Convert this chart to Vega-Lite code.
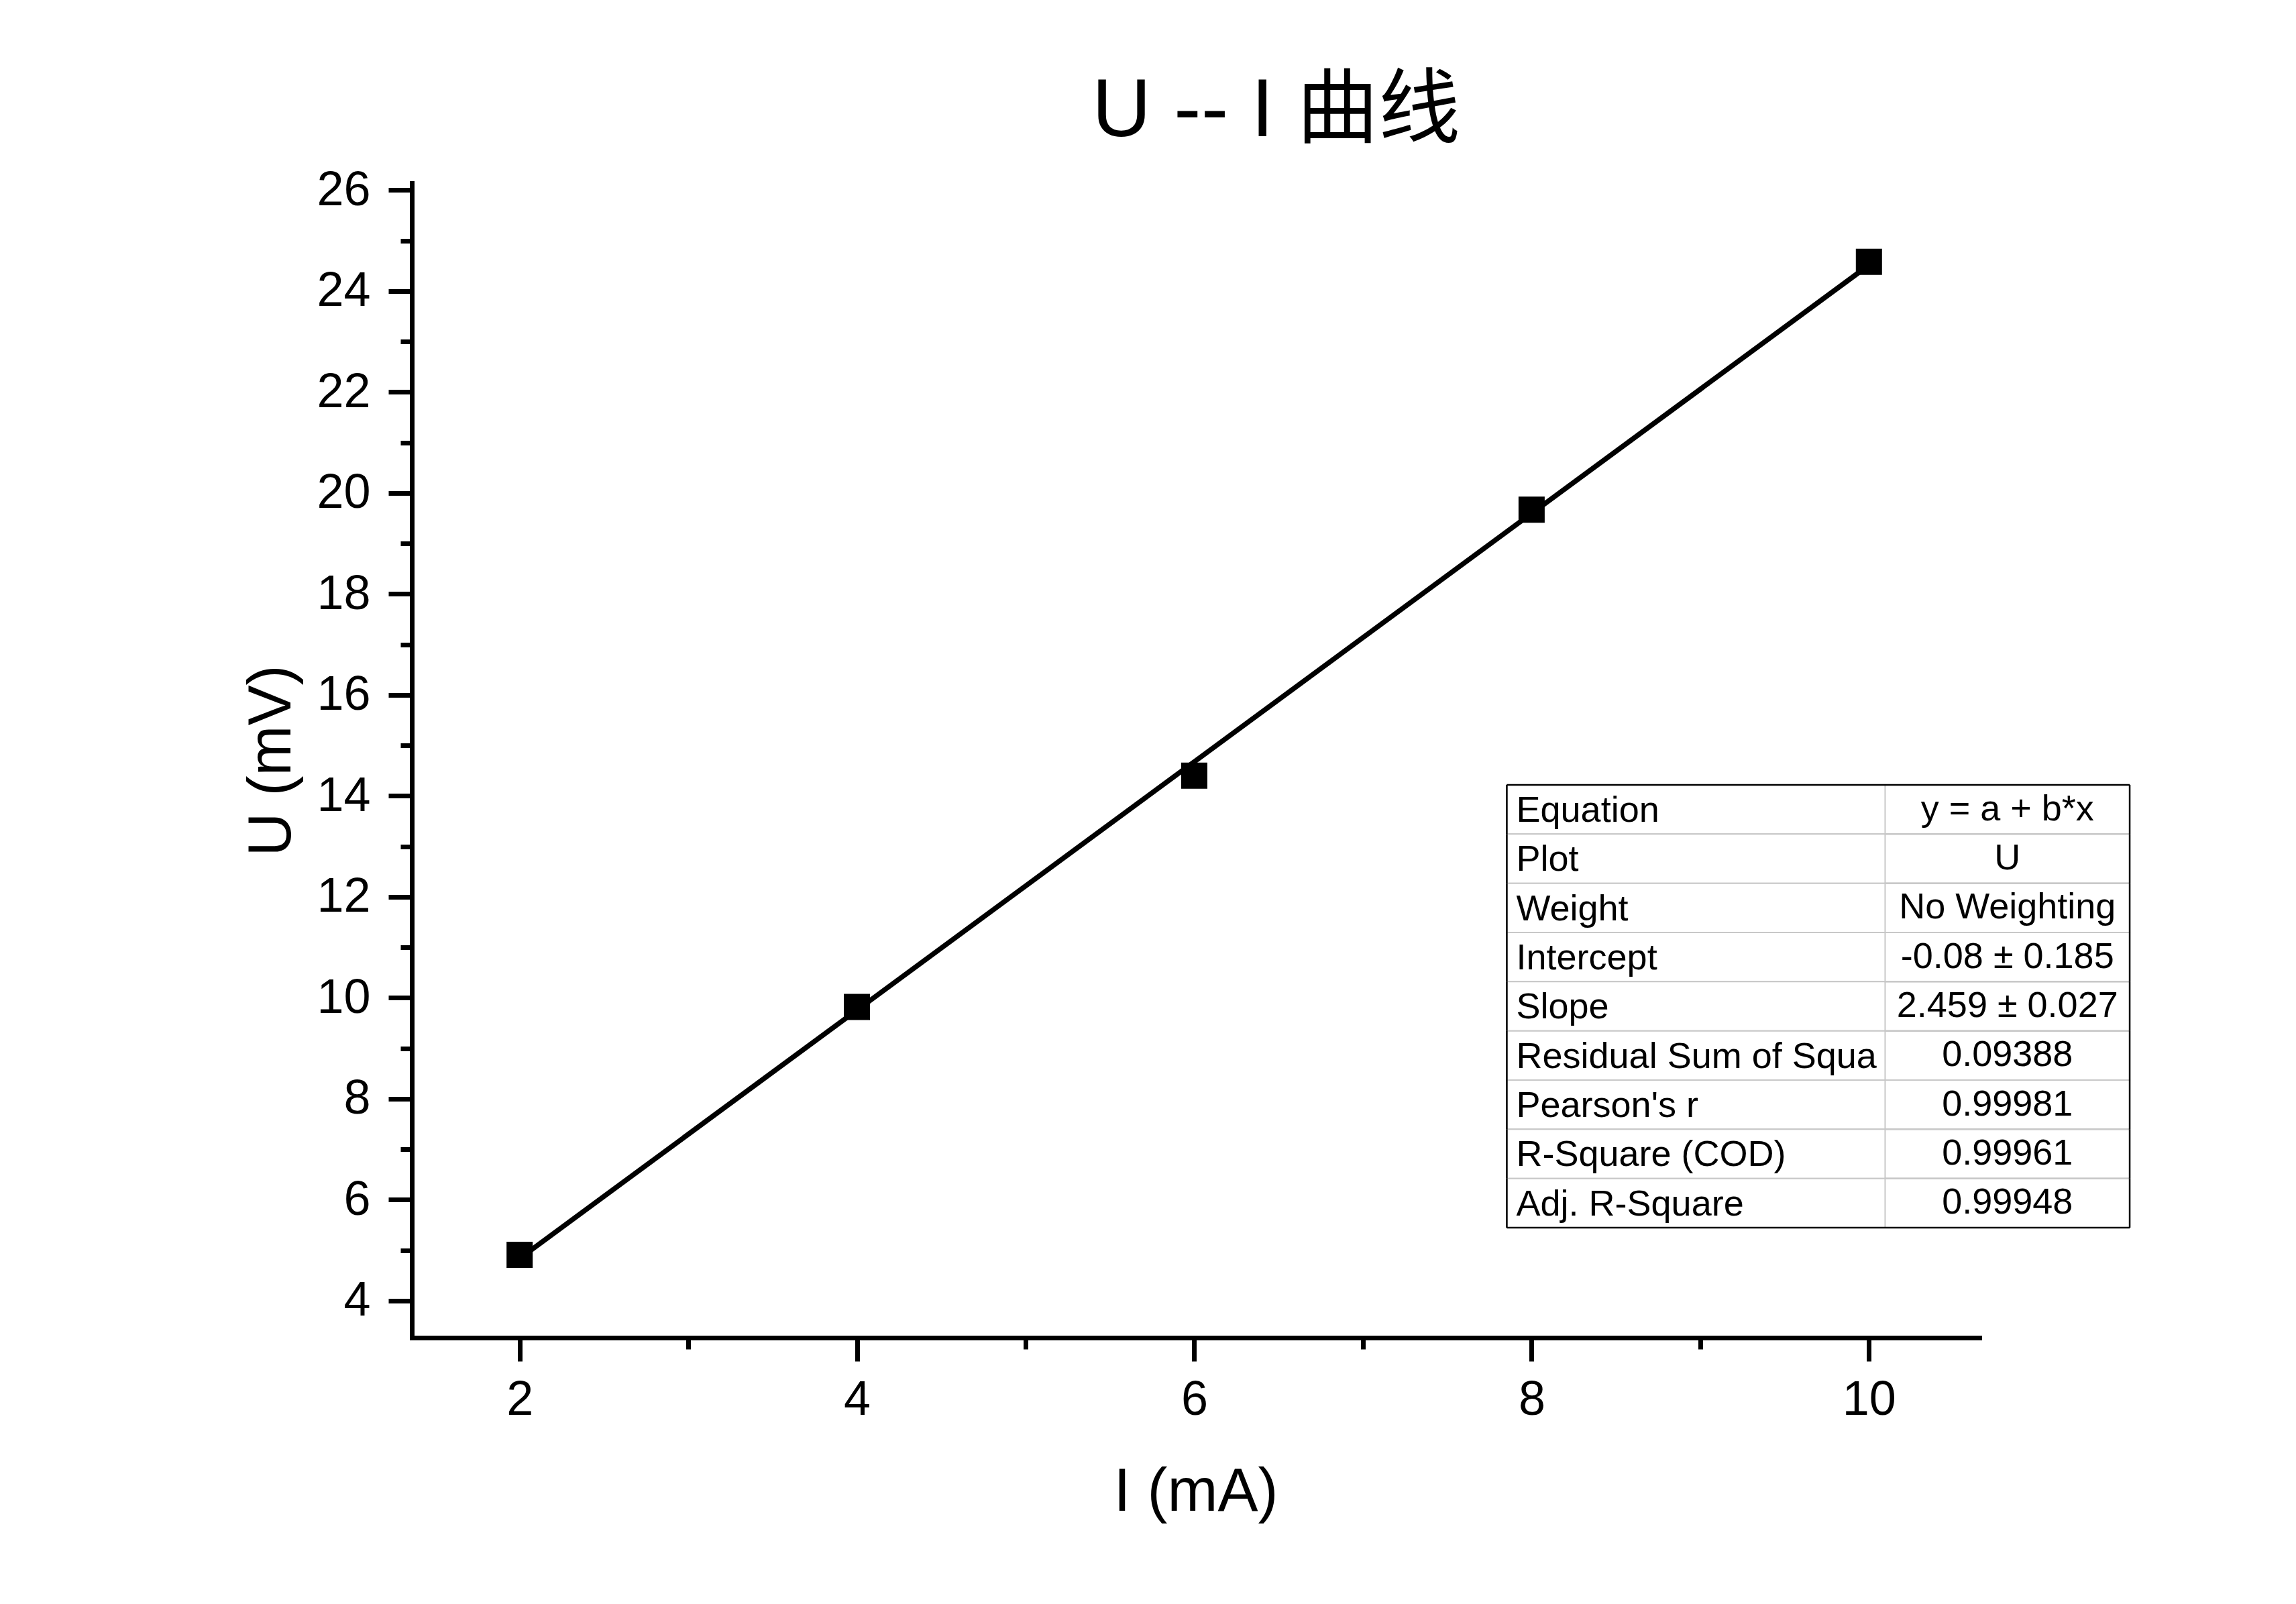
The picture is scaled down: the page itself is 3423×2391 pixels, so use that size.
{
  "$schema": "https://vega.github.io/schema/vega-lite/v6.json",
  "width": 2337,
  "height": 1721,
  "autosize": {"type": "none"},
  "padding": {"left": 614, "top": 273, "right": 472, "bottom": 397},
  "background": "white",
  "config": {"view": {"stroke": null}},
  "title": {
    "text": "U -- I 曲线",
    "font": "Liberation Sans, Noto Sans CJK SC",
    "fontSize": 122,
    "fontWeight": "normal",
    "color": "black",
    "anchor": "start",
    "frame": "group",
    "dx": 1014,
    "baseline": "alphabetic",
    "offset": -78
  },
  "datasets": {
    "points": [
      {"I": 2, "U": 4.91},
      {"I": 4, "U": 9.82},
      {"I": 6, "U": 14.40},
      {"I": 8, "U": 19.67},
      {"I": 10, "U": 24.58}
    ],
    "table": [
      {"row": 1, "label": "Equation", "value": "y = a + b*x"},
      {"row": 2, "label": "Plot", "value": "U"},
      {"row": 3, "label": "Weight", "value": "No Weighting"},
      {"row": 4, "label": "Intercept", "value": "-0.08 ± 0.185"},
      {"row": 5, "label": "Slope", "value": "2.459 ± 0.027"},
      {"row": 6, "label": "Residual Sum of Squa", "value": "0.09388"},
      {"row": 7, "label": "Pearson's r", "value": "0.99981"},
      {"row": 8, "label": "R-Square (COD)", "value": "0.99961"},
      {"row": 9, "label": "Adj. R-Square", "value": "0.99948"}
    ]
  },
  "layer": [
    {
      "data": {"name": "points"},
      "encoding": {
        "x": {
          "field": "I",
          "type": "quantitative",
          "scale": {"domain": [1.361, 10.655], "nice": false, "zero": false},
          "axis": {
            "title": "I (mA)",
            "values": [2, 3, 4, 5, 6, 7, 8, 9, 10],
            "labelExpr": "datum.value % 2 === 0 ? datum.label : ''",
            "tickSize": {"condition": {"test": "datum.value % 2 !== 0", "value": 17}, "value": 35},
            "tickWidth": 7,
            "tickColor": "black",
            "domainColor": "black",
            "domainWidth": 7,
            "domainCap": "square",
            "labelFont": "Liberation Sans",
            "labelFontSize": 72,
            "labelColor": "black",
            "labelPadding": 22,
            "labelOverlap": false,
            "labelFlush": false,
            "grid": false,
            "titleFont": "Liberation Sans",
            "titleFontSize": 90,
            "titleFontWeight": "normal",
            "titleColor": "black",
            "titlePadding": 58
          }
        },
        "y": {
          "field": "U",
          "type": "quantitative",
          "scale": {"domain": [3.269, 26.137], "nice": false, "zero": false},
          "axis": {
            "title": "U (mV)",
            "values": [4, 5, 6, 7, 8, 9, 10, 11, 12, 13, 14, 15, 16, 17, 18, 19, 20, 21, 22, 23, 24, 25, 26],
            "labelExpr": "datum.value % 2 === 0 ? datum.label : ''",
            "tickSize": {"condition": {"test": "datum.value % 2 !== 0", "value": 17}, "value": 35},
            "tickWidth": 7,
            "tickColor": "black",
            "domainColor": "black",
            "domainWidth": 7,
            "domainCap": "square",
            "labelFont": "Liberation Sans",
            "labelFontSize": 72,
            "labelColor": "black",
            "labelPadding": 27,
            "labelOverlap": false,
            "grid": false,
            "titleFont": "Liberation Sans",
            "titleFontSize": 90,
            "titleFontWeight": "normal",
            "titleColor": "black",
            "titlePadding": 20
          }
        }
      },
      "layer": [
        {
          "transform": [{"regression": "U", "on": "I"}],
          "mark": {"type": "line", "color": "black", "strokeWidth": 7.5}
        },
        {
          "mark": {"type": "point", "shape": "square", "filled": true, "size": 1521, "color": "black", "opacity": 1}
        }
      ]
    },
    {
      "data": {"name": "table"},
      "encoding": {
        "y": {
          "field": "row",
          "type": "ordinal",
          "scale": {
            "type": "band",
            "domain": [-11, -10, -9, -8, -7, -6, -5, -4, -3, -2, -1, 0, 1, 2, 3, 4, 5, 6, 7, 8, 9, 10, 11],
            "paddingInner": 0,
            "paddingOuter": 0.2345,
            "align": 0.495
          },
          "axis": null
        }
      },
      "layer": [
        {
          "mark": {"type": "rect", "fill": "white", "stroke": "#c8c8c8", "strokeWidth": 2},
          "encoding": {
            "x": {"datum": 7.853, "type": "quantitative", "scale": {"domain": [1.361, 10.655], "nice": false, "zero": false}, "axis": null},
            "x2": {"datum": 11.546}
          }
        },
        {
          "mark": {"type": "rect", "fillOpacity": 0, "stroke": "#c8c8c8", "strokeWidth": 2},
          "encoding": {
            "x": {"datum": 10.096, "type": "quantitative", "scale": {"domain": [1.361, 10.655], "nice": false, "zero": false}, "axis": null},
            "x2": {"datum": 11.546}
          }
        },
        {
          "mark": {"type": "rect", "fillOpacity": 0, "stroke": "black", "strokeWidth": 2.5},
          "encoding": {
            "x": {"datum": 7.853, "type": "quantitative", "scale": {"domain": [1.361, 10.655], "nice": false, "zero": false}, "axis": null},
            "x2": {"datum": 7.853}
          }
        },
        {
          "mark": {"type": "rect", "fillOpacity": 0, "stroke": "black", "strokeWidth": 2.5},
          "encoding": {
            "x": {"datum": 11.546, "type": "quantitative", "scale": {"domain": [1.361, 10.655], "nice": false, "zero": false}, "axis": null},
            "x2": {"datum": 11.546}
          }
        },
        {
          "transform": [{"filter": "datum.row === 1"}],
          "mark": {"type": "rule", "color": "black", "strokeWidth": 2.5},
          "encoding": {
            "y": {"field": "row", "type": "ordinal", "bandPosition": 0},
            "x": {"datum": 7.853, "type": "quantitative", "scale": {"domain": [1.361, 10.655], "nice": false, "zero": false}, "axis": null},
            "x2": {"datum": 11.546}
          }
        },
        {
          "transform": [{"filter": "datum.row === 9"}],
          "mark": {"type": "rule", "color": "black", "strokeWidth": 2.5},
          "encoding": {
            "y": {"field": "row", "type": "ordinal", "bandPosition": 1},
            "x": {"datum": 7.853, "type": "quantitative", "scale": {"domain": [1.361, 10.655], "nice": false, "zero": false}, "axis": null},
            "x2": {"datum": 11.546}
          }
        },
        {
          "mark": {"type": "text", "align": "left", "baseline": "alphabetic", "dy": 18.5, "font": "Liberation Sans", "fontSize": 54, "color": "black"},
          "encoding": {
            "x": {"datum": 7.909, "type": "quantitative", "scale": {"domain": [1.361, 10.655], "nice": false, "zero": false}, "axis": null},
            "text": {"field": "label"}
          }
        },
        {
          "mark": {"type": "text", "align": "center", "baseline": "alphabetic", "dy": 16, "font": "Liberation Sans", "fontSize": 54, "color": "black"},
          "encoding": {
            "x": {"datum": 10.821, "type": "quantitative", "scale": {"domain": [1.361, 10.655], "nice": false, "zero": false}, "axis": null},
            "text": {"field": "value"}
          }
        }
      ]
    }
  ],
  "resolve": {
    "scale": {"x": "independent", "y": "independent"},
    "axis": {"x": "independent", "y": "independent"}
  }
}
